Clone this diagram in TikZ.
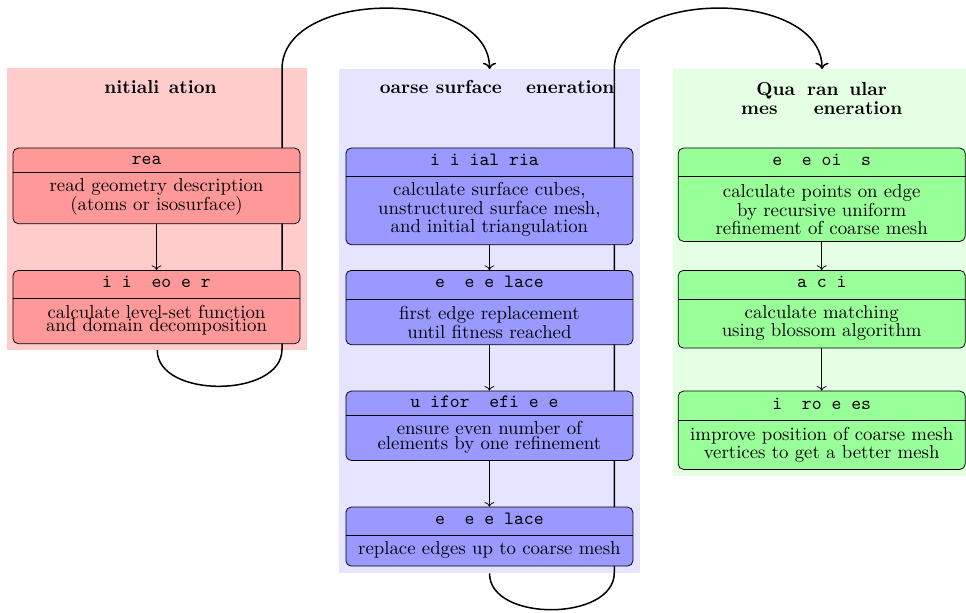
\documentclass[tikz,border=0pt]{standalone}
\usetikzlibrary{arrows.meta}
\begin{document}
\begin{tikzpicture}[x=0.532pt,y=-0.532pt,
  bgbox/.style={inner sep=0pt, draw=none, anchor=north west},
  stepbox/.style={draw=black, line width=0.4pt, rounded corners=2.8pt, inner sep=0pt, minimum width={287*0.532pt}, anchor=north},
  hdr/.style={font=\ttfamily, inner sep=0pt, anchor=mid},
  bdy/.style={align=center, inner sep=0pt, font=\fontsize{10}{9.8}\selectfont},
  tight/.style={font=\fontsize{10}{7.1}\selectfont},
  ttl/.style={inner sep=0pt, anchor=mid, font=\bfseries},
  ttlm/.style={align=center, inner sep=0pt, font=\bfseries\fontsize{10}{10.1}\selectfont},
  flow/.style={->, line width=0.4pt},
  bigflow/.style={->, thick}]

\useasboundingbox (0,0) rectangle (966,612);

% backgrounds
\node[bgbox, fill=red!20, minimum width={299.7*0.532pt}, minimum height={281.6*0.532pt}] (redbg) at (7,67.7) {};
\node[bgbox, fill=blue!10, minimum width={300.3*0.532pt}, minimum height={503.7*0.532pt}] (bluebg) at (339,69) {};
\node[bgbox, fill=green!10, minimum width={298.7*0.532pt}, minimum height={407*0.532pt}] (greenbg) at (672.3,69) {};

% titles
\node[ttl] (t1) at (156.5,89.3) {\phantom{I}nitiali\phantom{z}ation};
\node[ttl] (t2) at (489.4,89.3) {\phantom{C}oarse surface \phantom{G}eneration};
\node[ttlm] (t3) at (821.7,98.4) {Qua\phantom{d}ran\phantom{g}ular\\mes\phantom{h} \phantom{G}eneration};

% big connectors
\coordinate (k1b) at (282,349.3);
\coordinate (k1t) at (282,69);
\coordinate (k2b) at (614.3,572.7);
\coordinate (k2t) at (614.3,69);
\draw[bigflow] (redbg.south) to[out=-90,in=-90] (k1b) -- (k1t) to[out=90,in=90] (bluebg.north);
\draw[bigflow] (bluebg.south) to[out=-90,in=-90] (k2b) -- (k2t) to[out=90,in=90] (greenbg.north);

% red column
\node[stepbox, fill=red!40, minimum height={75.6*0.532pt}] (r1) at (156.5,147.7) {};
\draw (r1.west |- 0,172.3) -- (r1.east |- 0,172.3);
\node[hdr] (r1h) at (156.5,160) {rea~~~};
\node[bdy] (r1b) at (156.5,196.9) {read geometry description\\(atoms or isosurface)};

\node[stepbox, fill=red!40, minimum height={73.3*0.532pt}] (r2) at (156.5,270) {};
\draw (r2.west |- 0,298.7) -- (r2.east |- 0,298.7);
\node[hdr] (r2h) at (156.5,283.8) {i~i~~eo~e~r~};
\node[bdy, tight] (r2b) at (156.5,320) {calculate level-set function\\and domain decomposition};

% blue column
\node[stepbox, fill=blue!40, minimum height={96.6*0.532pt}] (b1) at (489.4,147.7) {};
\draw (b1.west |- 0,176.7) -- (b1.east |- 0,176.7);
\node[hdr] (b1h) at (489.4,161) {i~i~ial~ria~~};
\node[bdy] (b1b) at (489.4,209.6) {calculate surface cubes,\\unstructured surface mesh,\\and initial triangulation};

\node[stepbox, fill=blue!40, minimum height={74.3*0.532pt}] (b2) at (489.4,270) {};
\draw (b2.west |- 0,299.3) -- (b2.east |- 0,299.3);
\node[hdr] (b2h) at (489.4,283.5) {e~~e~e~lace~};
\node[bdy] (b2b) at (489.4,322.5) {first edge replacement\\until fitness reached};

\node[stepbox, fill=blue!40, minimum height={69.3*0.532pt}] (b3) at (489.4,390.7) {};
\draw (b3.west |- 0,415.7) -- (b3.east |- 0,415.7);
\node[hdr] (b3h) at (489.4,403.7) {u~ifor~~efi~e~e~~};
\node[bdy, tight] (b3b) at (489.4,437.3) {ensure even number of\\elements by one refinement};

\node[stepbox, fill=blue!40, minimum height={59*0.532pt}] (b4) at (489.4,506.7) {};
\draw (b4.west |- 0,535.7) -- (b4.east |- 0,535.7);
\node[hdr] (b4h) at (489.4,520.5) {e~~e~e~lace~};
\node[bdy] (b4b) at (489.4,550) {replace edges up to coarse mesh};

% green column
\node[stepbox, fill=green!40, minimum height={93.3*0.532pt}] (g1) at (821.7,147.7) {};
\draw (g1.west |- 0,176.7) -- (g1.east |- 0,176.7);
\node[hdr] (g1h) at (821.7,161) {e~~e~oi~~s};
\node[bdy] (g1b) at (821.7,209.8) {calculate points on edge\\by recursive uniform\\refinement of coarse mesh};

\node[stepbox, fill=green!40, minimum height={77.7*0.532pt}] (g2) at (821.7,270) {};
\draw (g2.west |- 0,299) -- (g2.east |- 0,299);
\node[hdr] (g2h) at (821.7,283.3) {~a~c~i~~};
\node[bdy] (g2b) at (821.7,323) {calculate matching\\using blossom algorithm};

\node[stepbox, fill=green!40, minimum height={78.3*0.532pt}] (g3) at (821.7,390.7) {};
\draw (g3.west |- 0,420) -- (g3.east |- 0,420);
\node[hdr] (g3h) at (821.7,405.7) {i~~ro~e~es~};
\node[bdy] (g3b) at (821.7,445) {improve position of coarse mesh\\vertices to get a better mesh};

% in-column arrows
\draw[flow] (r1.south) -- (r2.north);
\draw[flow] (b1.south) -- (b2.north);
\draw[flow] (b2.south) -- (b3.north);
\draw[flow] (b3.south) -- (b4.north);
\draw[flow] (g1.south) -- (g2.north);
\draw[flow] (g2.south) -- (g3.north);
\end{tikzpicture}
\end{document}
